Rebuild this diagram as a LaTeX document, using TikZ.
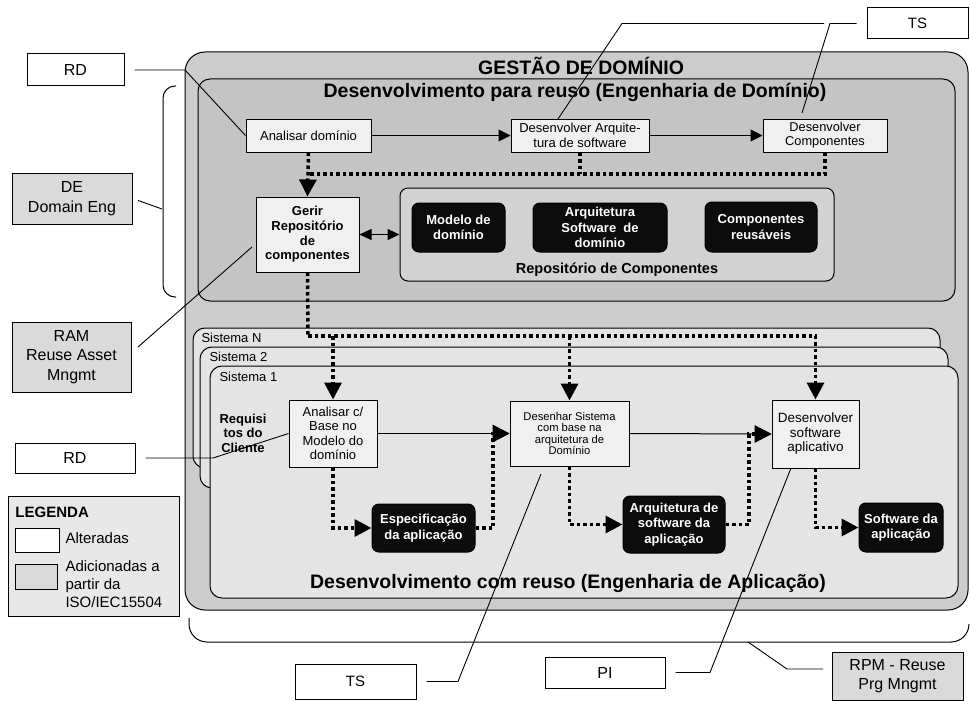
\documentclass[tikz,border=0pt]{standalone}
\usepackage{fontspec}
\setmainfont{Liberation Sans}
\usetikzlibrary{arrows.meta}
\definecolor{outerfill}{RGB}{204,204,204}
\definecolor{upperfill}{RGB}{196,196,196}
\definecolor{repofill}{RGB}{210,210,210}
\definecolor{sysfill}{RGB}{228,228,228}
\definecolor{procfill}{RGB}{240,240,240}
\definecolor{lblgray}{RGB}{218,218,218}
\definecolor{legfill}{RGB}{232,232,232}
\definecolor{blkfill}{RGB}{12,12,12}
\begin{document}
\begin{tikzpicture}[x=1pt,y=-1pt,line width=1pt,
  container/.style={draw,inner sep=0pt},
  proc/.style={draw,fill=procfill,align=center,inner sep=0pt,font=\fontsize{13}{14.5}\selectfont},
  blk/.style={draw,fill=blkfill,text=white,rounded corners=7pt,align=center,inner sep=0pt,font=\fontsize{13}{15.5}\selectfont\bfseries},
  lbl/.style={draw,fill=white,inner sep=0pt,align=center,font=\fontsize{16}{19.5}\selectfont},
  lblg/.style={lbl,fill=lblgray},
  title/.style={inner sep=0pt,font=\fontsize{19.5}{22}\selectfont\bfseries},
  systxt/.style={anchor=west,inner sep=0pt,font=\fontsize{13}{15}\selectfont},
  dotline/.style={line width=3.5pt,dash pattern=on 3.5pt off 3pt},
  dotarrow/.style={dotline,-{Triangle[length=17pt,width=17pt]}},
  solarrow/.style={-{Triangle[length=12pt,width=12pt]}},
  leader/.style={line width=0.9pt},
]
\useasboundingbox (0,0) rectangle (970,701);

% containers
\node[container,fill=outerfill,rounded corners=20pt,minimum width=783pt,minimum height=558pt] (gd) at (576.5,331) {};
\node[container,fill=upperfill,rounded corners=12pt,minimum width=757pt,minimum height=222pt] (up) at (576.5,190) {};
\node[container,fill=repofill,rounded corners=8pt,minimum width=434pt,minimum height=93pt] (repo) at (617,234.5) {};
\node[container,fill=sysfill,rounded corners=12pt,minimum width=747pt,minimum height=140pt] (sysN) at (566.5,398) {};
\node[container,fill=sysfill,rounded corners=12pt,minimum width=748pt,minimum height=141pt] (sys2) at (574,417.5) {};
\node[container,fill=sysfill,rounded corners=12pt,minimum width=748pt,minimum height=232pt] (sys1) at (584,482) {};

% titles
\node[title] (tgd) at (581,66) {GESTÃO DE DOMÍNIO};
\node[title] (tup) at (575,92.5) {Desenvolvimento para reuso (Engenharia de Domínio)};
\node[title] (tdown) at (568,583) {Desenvolvimento com reuso (Engenharia de Aplicação)};
\node[inner sep=0pt,font=\fontsize{14.5}{16}\selectfont\bfseries] (trepo) at (617,270) {Repositório de Componentes};
\node[systxt] (tsN) at (201,338) {Sistema N};
\node[systxt] (ts2t) at (209,357) {Sistema 2};
\node[systxt] (ts1t) at (219,377) {Sistema 1};
\node[inner sep=0pt,align=center,font=\fontsize{13}{14.5}\selectfont\bfseries] (req) at (243,433) {Requisi\\tos do\\Cliente};

% processes (domain)
\node[proc,minimum width=125pt,minimum height=33pt] (an) at (308.5,135.5) {Analisar domínio};
\node[proc,minimum width=138pt,minimum height=33pt] (da) at (580,135.5) {Desenvolver Arquite-\\tura de software};
\node[proc,minimum width=124pt,minimum height=33pt,font=\fontsize{12.8}{14}\selectfont] (dc) at (825,135.5) {Desenvolver\\Componentes};
\node[proc,minimum width=103pt,minimum height=75pt,font=\fontsize{13}{14.7}\selectfont\bfseries] (gr) at (307.5,234.5) {Gerir\\Repositório\\de\\componentes};
\node[blk,minimum width=93pt,minimum height=49pt] (md) at (458.5,227.5) {Modelo de\\domínio};
\node[blk,minimum width=134pt,minimum height=49pt] (asd) at (600,227.5) {Arquitetura\\Software~ de\\domínio};
\node[blk,minimum width=112pt,minimum height=50pt] (cr) at (761,227) {Componentes\\reusáveis};

% processes (application)
\node[proc,minimum width=88pt,minimum height=67pt,font=\fontsize{13}{14.3}\selectfont] (anc) at (333,433.5) {Analisar c/\\Base no\\Modelo do\\domínio};
\node[proc,minimum width=119pt,minimum height=65pt,font=\fontsize{11.2}{11.5}\selectfont] (ds) at (569.5,433.5) {Desenhar Sistema\\com base na\\arquitetura de\\Domínio};
\node[proc,minimum width=87pt,minimum height=68pt,font=\fontsize{13.5}{14.5}\selectfont] (dsw) at (815.5,434) {Desenvolver\\software\\aplicativo};
\node[blk,minimum width=103pt,minimum height=48pt] (esp) at (423.5,528) {Especificação\\da aplicação};
\node[blk,minimum width=102pt,minimum height=57pt] (aapp) at (674,524.5) {Arquitetura de\\software da\\aplicação};
\node[blk,minimum width=84pt,minimum height=49pt] (sapp) at (901,527.5) {Software da\\aplicação};

% side labels
\node[lbl,minimum width=97pt,minimum height=32pt] (rd1) at (75.5,70) {RD};
\node[lbl,minimum width=101pt,minimum height=31pt,font=\fontsize{15}{18}\selectfont] (ts1) at (917.5,23.5) {TS};
\node[lblg,minimum width=120pt,minimum height=51pt] (de) at (72,198.5) {DE\\Domain Eng};
\node[lblg,minimum width=119pt,minimum height=70pt] (ram) at (71.5,357) {RAM\\Reuse Asset\\Mngmt};
\node[lbl,minimum width=120pt,minimum height=30pt] (rd2) at (75,458) {RD};
\node[lbl,minimum width=121pt,minimum height=35pt,font=\fontsize{15}{18}\selectfont] (ts2) at (355.5,681.5) {TS};
\node[lbl,minimum width=120pt,minimum height=31pt] (pi) at (605,672.5) {PI};
\node[lblg,minimum width=131pt,minimum height=48pt] (rpm) at (897.5,676) {RPM - Reuse\\Prg Mngmt};

% legend
\node[draw,fill=legfill,minimum width=171pt,minimum height=120pt,inner sep=0pt] (leg) at (93.5,556) {};
\node[anchor=west,inner sep=0pt,font=\fontsize{15}{18}\selectfont\bfseries] (legt) at (15,512) {LEGENDA};
\node[draw,fill=white,minimum width=44pt,minimum height=24pt,inner sep=0pt] (legw) at (37,540) {};
\node[anchor=west,inner sep=0pt,font=\fontsize{15}{18}\selectfont] (lega) at (65,538) {Alteradas};
\node[draw,fill=lblgray,minimum width=42pt,minimum height=25pt,inner sep=0pt] (legg) at (36,576.5) {};
\node[anchor=north west,align=left,inner sep=0pt,font=\fontsize{15}{18}\selectfont] (legb) at (65,560) {Adicionadas a\\partir da\\ISO/IEC15504};

% brackets
\draw[rounded corners=12pt] (176,86) -- (163,86) -- (163,297) -- (176,297);
\draw[rounded corners=18pt] (189,618) -- (189,642) -- (969,642) -- (969,624);

% dotted flows (domain)
\coordinate (j1) at (308.5,174);
\draw[dotline] (dc.south) |- (j1);
\draw[dotline] (da.south) -- (da.south |- j1);
\draw[dotarrow] (an.south) -- (gr.north);
\coordinate (j2) at (308,336);
\draw[dotline] (gr.south) -- (j2);
\draw[dotarrow] (j2) -| (dsw.north);
\draw[dotarrow] (anc.north |- j2) -- (anc.north);
\draw[dotarrow] (ds.north |- j2) -- (ds.north);

% dotted flows (application)
\coordinate (c1) at (493,433.5);
\coordinate (c2) at (749,434);
\draw[dotarrow] (anc.south) |- (esp.west);
\draw[dotarrow] (esp.east) -| (c1) -- (ds.west);
\draw[dotarrow] (ds.south) |- (aapp.west);
\draw[dotarrow] (aapp.east) -| (c2) -- (dsw.west);
\draw[dotarrow] (dsw.south) |- (sapp.west);

% solid flows
\draw[solarrow] (an.east) -- (da.west);
\draw[solarrow] (da.east) -- (dc.west);
\draw[solarrow] (anc.east) -- (ds.west);
\draw[solarrow] (ds.east) -- (dsw.west);
\draw[{Triangle[length=12pt,width=11pt]}-{Triangle[length=12pt,width=11pt]}] (gr.east) -- (repo.west);

% leaders
\coordinate (debr) at (162,209);
\coordinate (tsA) at (802,113);
\coordinate (tsB) at (824,23.5);
\coordinate (tsC) at (558,119);
\coordinate (ramS) at (138,347);
\coordinate (ramE) at (252,247);
\coordinate (tsD) at (541,474);
\coordinate (piE) at (791,468);
\coordinate (rpmS) at (823,669);
\coordinate (rpmbr) at (748,642);
\draw[leader,shorten <=6pt] (de.east) -- (debr);
\draw[leader,shorten <=10pt] (rd1.east) -- (185,70) -- (an.west);
\draw[leader,shorten <=10pt] (ts1.west) -- (830,23.5) -- (tsA);
\draw[leader] (tsB) -- (622,23.5) -- (tsC);
\draw[leader] (ramS) -- (ramE);
\draw[leader,shorten <=10pt] (rd2.east) -- (213,458) -- (anc.west);
\draw[leader,shorten <=10pt] (ts2.east) -- (458,681.5) -- (tsD);
\draw[leader,shorten <=10pt] (pi.east) -- (710,672.5) -- (piE);
\draw[leader] (rpmS) -- (787,669) -- (rpmbr);
\end{tikzpicture}
\end{document}
